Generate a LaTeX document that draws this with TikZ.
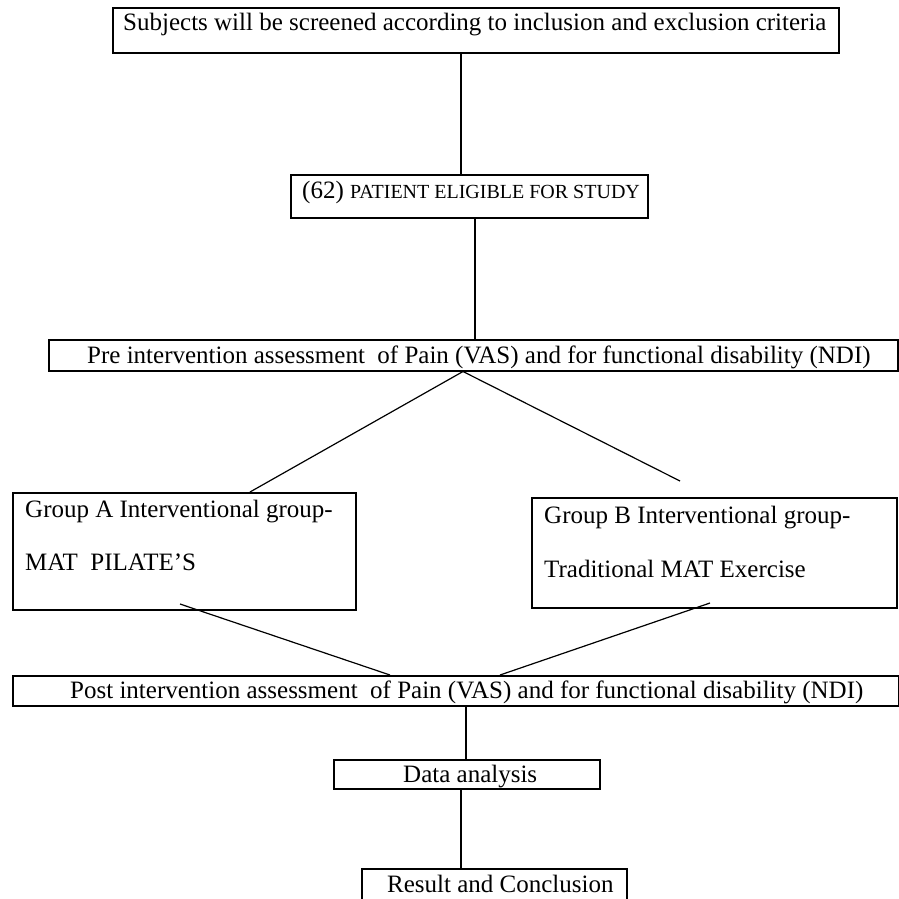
\documentclass[tikz,border=0pt]{standalone}
\usepackage{fontspec}
\setmainfont{Liberation Serif}
\begin{document}
\begin{tikzpicture}[x=1pt,y=-1pt,
  box/.style={draw=black,line width=1.5pt,anchor=north west,inner sep=0pt},
  txt/.style={inner sep=0pt,anchor=base west,font=\fontsize{25}{30}\selectfont},
  ln/.style={draw=black,line width=1.2pt}]
\useasboundingbox (0,0) rectangle (899,898);
\fill[white] (0,0) rectangle (899,898);
% boxes
\node[box,minimum width=726,minimum height=45] (b1) at (112,7) {};
\node[box,minimum width=357,minimum height=43] (b2) at (290,174) {};
\node[box,minimum width=849,minimum height=31] (b3) at (48,339) {};
\node[box,minimum width=343,minimum height=117] (ga) at (12,492) {};
\node[box,minimum width=365,minimum height=110] (gb) at (531,497) {};
\node[box,minimum width=886,minimum height=30] (b4) at (12,675) {};
\node[box,minimum width=266,minimum height=29] (b5) at (333,759) {};
\node[box,minimum width=265,minimum height=40] (b6) at (361,868) {};
% texts
\node[txt] (t1) at (123,30) {Subjects will be screened according to inclusion and exclusion criteria};
\node[txt] (t2) at (302,198) {(62) {\fontsize{20}{24}\selectfont PATIENT ELIGIBLE FOR STUDY}};
\node[txt] (t3) at (87,363) {Pre intervention assessment\ \ of Pain (VAS) and for functional disability (NDI)};
\node[txt] (ta1) at (25,517) {Group A Interventional group-};
\node[txt] (ta2) at (25,570) {MAT\ \ PILATE’S};
\node[txt] (tb1) at (544,523) {Group B Interventional group-};
\node[txt] (tb2) at (544,577) {Traditional MAT Exercise};
\node[txt] (t4) at (70,698) {Post intervention assessment\ \ of Pain (VAS) and for functional disability (NDI)};
\node[txt] (t5) at (403,782) {Data analysis};
\node[txt] (t6) at (387,892) {Result and Conclusion};
% free ends
\coordinate (pr) at (680,481);
\coordinate (as) at (180,604);
\coordinate (bs) at (710,603);
% connectors
\draw[ln] (b1.south -| 461,0) -- (b2.north -| 461,0);
\draw[ln] (b2.south -| 475,0) -- (b3.north -| 475,0);
\draw[ln] (b3.south -| 463,0) -- (ga.north -| 250,0);
\draw[ln] (b3.south -| 463,0) -- (pr);
\draw[ln] (as) -- (b4.north -| 390,0);
\draw[ln] (bs) -- (b4.north -| 500,0);
\draw[ln] (b4.south -| 466,0) -- (b5.north -| 466,0);
\draw[ln] (b5.south -| 461,0) -- (b6.north -| 461,0);
\end{tikzpicture}
\end{document}
